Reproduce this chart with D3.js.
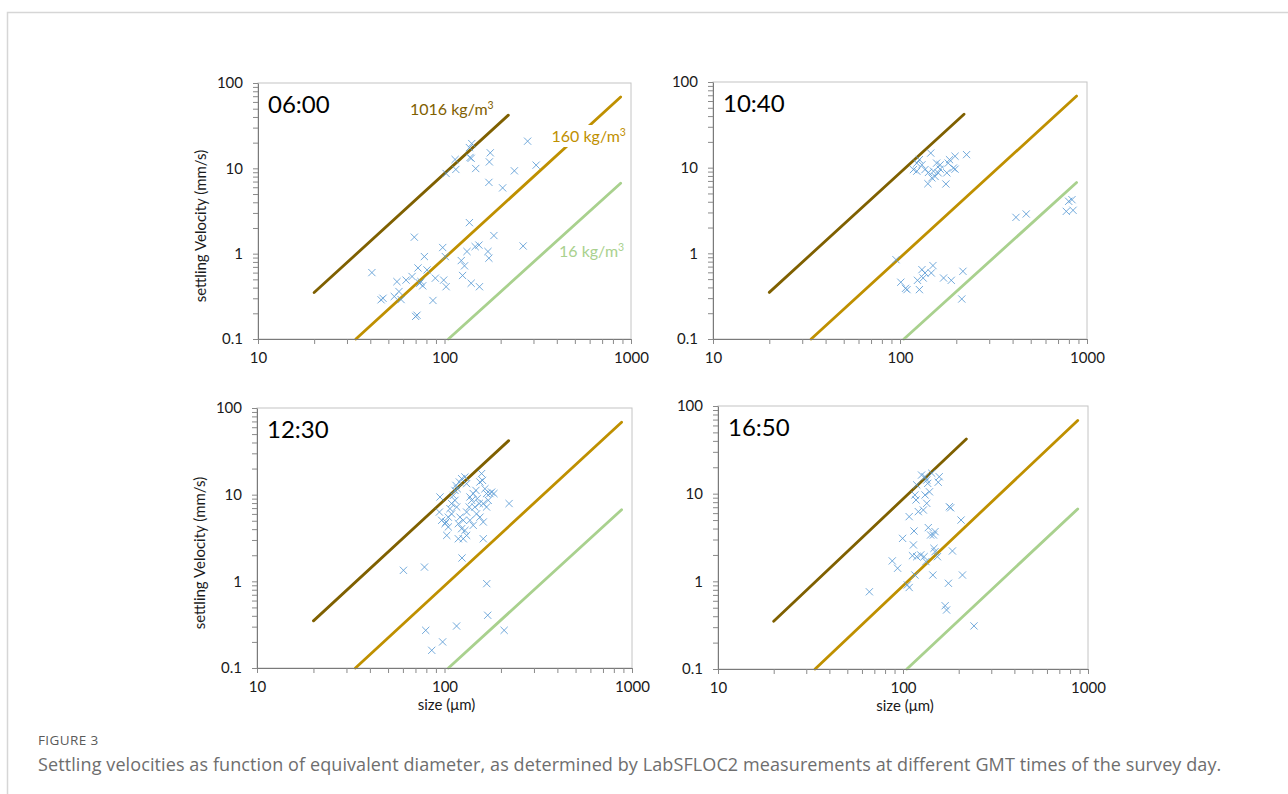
<!DOCTYPE html>
<html>
<head>
<meta charset="utf-8">
<script src="https://cdn.jsdelivr.net/npm/d3@7"></script>
<style>
	body { margin: 0; background: #fff; }
	svg text { font-family: Lato, 'Open Sans', sans-serif; }
	.caption { font-family: 'Open Sans', sans-serif; }
</style>
</head>
<body>
<svg width="1288" height="794"></svg>
<script>
const svg = d3.select('svg');

// values: size (µm) and settling velocity (mm/s)
const panelTimes = ['06:00', '10:40', '12:30', '16:50'];

const size0600 = [40.8, 45.7, 46.8, 53.8, 55.6, 57, 58.5, 62.2, 67, 68.9, 70, 71.2, 72.1, 73.6, 76.4, 78, 80.6, 86.7, 89.3, 97.8, 99, 101, 102, 102, 114, 115, 123, 125, 128, 132, 136, 136, 137, 139, 140, 147, 146, 153, 154, 171, 173, 173, 174, 176, 184, 205, 237, 264, 279, 310, 74.8, 139];
const vel0600 = [0.6, 0.288, 0.3, 0.315, 0.47, 0.36, 0.29, 0.49, 0.54, 1.56, 0.184, 0.19, 0.68, 0.45, 0.42, 0.925, 0.645, 0.283, 0.516, 1.18, 0.49, 0.925, 0.41, 8.7, 12.7, 9.7, 0.83, 0.555, 0.72, 1.06, 2.31, 17.5, 13.4, 0.45, 19.5, 9.95, 1.21, 1.26, 0.41, 1.06, 0.885, 6.85, 11.9, 15.2, 1.63, 5.9, 9.35, 1.23, 20.8, 10.9, 0.47, 13.1];

const size1040 = [95.2, 101, 107, 109, 127, 124, 131, 133, 136, 147, 150, 171, 188, 217, 214, 417, 473, 775, 798, 831, 842, 146, 227, 197, 184, 127, 123, 157, 131, 181, 193, 118, 123, 136, 142, 151, 160, 164, 154, 148, 178, 197, 141, 176, 164];
const vel1040 = [0.843, 0.46, 0.39, 0.377, 0.377, 0.484, 0.645, 0.515, 0.59, 0.59, 0.72, 0.515, 0.484, 0.617, 0.293, 2.63, 2.88, 3.09, 4.05, 4.23, 3.18, 14.8, 14.2, 13.6, 12.4, 12.4, 11.3, 11.3, 10.8, 11.3, 9.9, 9.5, 9.1, 9.5, 8.8, 9.1, 8.7, 9.6, 7.9, 7.6, 8.7, 9.6, 6.5, 6.45, 10.8];

const size1230 = [60.4, 78.2, 124, 161, 168, 170, 208, 79.4, 116, 97.7, 85.5, 221,
	94.6, 93.9, 96.6, 102.8, 101.9, 104.8, 106.9, 109.1, 111.4, 113.7, 115.1, 117, 120, 123.4, 128.5, 131.2, 136.7, 139.5, 142.3, 147.1, 149.5, 153.2, 154.5, 157.7, 159.5, 164.3, 167.6, 171.1, 174.6, 178.3, 183.5, 161, 154.5, 148.2, 145.2, 135.5, 131.2, 125.9, 121, 118.5, 123.4, 128.5, 131.2, 125.9, 118.5, 113.7, 116.1, 109.1, 104.8, 100.7, 136.7, 142.3, 161, 167.6];
const vel1230 = [1.34, 1.46, 1.86, 3.1, 0.94, 0.406, 0.272, 0.272, 0.305, 0.2, 0.16, 7.9,
	9.4, 6.3, 5.06, 3.39, 4.84, 5.5, 6.9, 7.9, 9.8, 11.2, 12.8, 11.7, 14, 15.3, 16, 13.4, 9.4, 8.6, 10.3, 11.2, 9, 7.9, 14, 17.5, 14.6, 11.7, 10.3, 8.6, 10.3, 10.7, 10.3, 4.84, 5.5, 6, 7.2, 7.2, 6.3, 5.06, 5.5, 4.63, 4.05, 3.87, 3.39, 3.1, 3.1, 8.6, 7.2, 6, 4.24, 4.63, 5.06, 4.43, 7.9, 7.2];

const size1650 = [65.8, 87.5, 93.5, 99.5, 105.5, 108, 108, 112.5, 113.8, 114.7, 116, 116, 117.6, 118.6, 121, 118.6, 124.7, 126, 128.8, 130, 131.6, 131.6, 133, 134.4, 134.4, 136, 137, 139, 141, 143, 145, 146, 147, 149, 149, 153.5, 155, 157, 169, 172, 176, 178, 181, 185, 206, 209.6, 242];
const vel1650 = [0.76, 1.71, 1.41, 3.09, 0.91, 0.85, 5.47, 1.96, 2.6, 3.75, 1.18, 9.66, 8.47, 12.6, 6.24, 1.91, 2, 16.3, 6.51, 1.91, 9.66, 15.6, 1.68, 7.76, 14.3, 13.1, 4.1, 10.5, 3.38, 17.1, 1.18, 3.38, 2.38, 3.69, 2.18, 1.91, 13.5, 15.6, 0.527, 0.471, 0.95, 7.1, 6.9, 2.22, 5, 1.18, 0.31];

// reference density lines: [size, velocity] end points
const densityNames = ['1016', '160', '16'];
const densityLines = [
	[[20, 0.35], [220, 42]],
	[[33.5, 0.1], [880, 68.5]],
	[[105, 0.1], [880, 6.7]],
];
const densityColors = ['#7f6000', '#bf9000', '#a9d18e'];

const xDomain = [10, 1000];
const yDomain = [0.1, 100];

const panels = [
	{ time: panelTimes[0], size: size0600, vel: vel0600, x0: 258, x1: 631, y0: 83, y1: 339, yLabel: true, xLabel: false, legend: true },
	{ time: panelTimes[1], size: size1040, vel: vel1040, x0: 713, x1: 1087, y0: 82, y1: 339, yLabel: false, xLabel: false },
	{ time: panelTimes[2], size: size1230, vel: vel1230, x0: 257, x1: 632, y0: 408, y1: 668, yLabel: true, xLabel: true },
	{ time: panelTimes[3], size: size1650, vel: vel1650, x0: 718, x1: 1088, y0: 406, y1: 669, yLabel: false, xLabel: true },
];

// outer figure frame
svg.append('rect')
	.attr('x', 7.5).attr('y', 12.5)
	.attr('width', 1300).attr('height', 800)
	.attr('fill', 'none')
	.attr('stroke', '#d6d6d6')
	.attr('stroke-width', 1.5);

const isDecade = d => Math.abs(Math.log10(d) - Math.round(Math.log10(d))) < 1e-6;
const decadeFormat = d => (isDecade(d) ? (d < 1 ? '0.1' : String(Math.round(d))) : '');

const drawPanel = p => {
	const xScale = d3.scaleLog().domain(xDomain).range([p.x0, p.x1]);
	const yScale = d3.scaleLog().domain(yDomain).range([p.y1, p.y0]);

	const g = svg.append('g');

	// plot area border
	g.append('rect')
		.attr('x', p.x0).attr('y', p.y0)
		.attr('width', p.x1 - p.x0).attr('height', p.y1 - p.y0)
		.attr('fill', 'none')
		.attr('stroke', '#c4c4c4')
		.attr('stroke-width', 1);

	const lineGenerator = d3.line()
		.x(d => xScale(d[0]))
		.y(d => yScale(d[1]));

	g.selectAll('.density-line')
		.data(densityLines)
		.enter()
		.append('path')
		.attr('class', 'density-line')
		.attr('d', d => lineGenerator(d))
		.attr('fill', 'none')
		.attr('stroke', (d, i) => densityColors[i])
		.attr('stroke-width', 2.8)
		.attr('stroke-linecap', 'round');

	// legend labels sit on top of the lines (white box breaks the 160 line)
	if (p.legend) {
		const labelPos = [[410, 115], [551.5, 141.5], [559, 256.5]];
		g.append('rect')
			.attr('x', 546).attr('y', 125)
			.attr('width', 82).attr('height', 22)
			.attr('fill', '#fff');
		densityNames.forEach((name, i) => {
			const t = g.append('text')
				.attr('x', labelPos[i][0])
				.attr('y', labelPos[i][1])
				.attr('fill', densityColors[i])
				.style('font-size', '16px')
				.text(`${name} kg/m`);
			t.append('tspan')
				.attr('dy', -6)
				.style('font-size', '10.5px')
				.text('3');
		});
	}

	// scatter markers
	const points = p.size.map((s, i) => [s, p.vel[i]]);
	g.selectAll('.pt')
		.data(points)
		.enter()
		.append('path')
		.attr('class', 'pt')
		.attr('transform', d => `translate(${xScale(d[0])},${yScale(d[1])})`)
		.attr('d', 'M-3.6,-3.6L3.6,3.6M-3.6,3.6L3.6,-3.6')
		.attr('stroke', '#5b9bd5')
		.attr('stroke-width', 1)
		.attr('opacity', 0.85)
		.attr('fill', 'none');

	const xAxis = d3.axisBottom(xScale)
		.tickValues(xScale.ticks())
		.tickFormat(decadeFormat)
		.tickSize(5)
		.tickSizeOuter(0)
		.tickPadding(8);
	const yAxis = d3.axisLeft(yScale)
		.tickValues(yScale.ticks())
		.tickFormat(decadeFormat)
		.tickSize(5)
		.tickSizeOuter(0)
		.tickPadding(10);

	const xAxisG = g.append('g').attr('transform', `translate(0,${p.y1})`).call(xAxis);
	const yAxisG = g.append('g').attr('transform', `translate(${p.x0},0)`).call(yAxis);

	[xAxisG, yAxisG].forEach(a => {
		a.select('.domain').attr('stroke', '#7a7a7a');
		a.selectAll('.tick line').attr('stroke', '#8a8a8a');
		a.selectAll('.tick text')
			.attr('fill', '#1a1a1a')
			.style('font-size', '15px')
			.style('font-family', 'Lato, sans-serif');
	});

	g.append('text')
		.attr('x', p.x0 + 10)
		.attr('y', p.y0 + 30)
		.attr('fill', '#000')
		.style('font-size', '24px')
		.text(p.time);

	if (p.yLabel) {
		g.append('text')
			.attr('transform', `translate(${p.x0 - 52},${(p.y0 + p.y1) / 2 + 15}) rotate(-90)`)
			.attr('text-anchor', 'middle')
			.attr('fill', '#1a1a1a')
			.style('font-size', '15px')
			.text('settling Velocity (mm/s)');
	}
	if (p.xLabel) {
		g.append('text')
			.attr('x', xScale(100) + 2)
			.attr('y', p.y1 + 42)
			.attr('text-anchor', 'middle')
			.attr('fill', '#1a1a1a')
			.style('font-size', '15px')
			.text('size (μm)');
	}
};

panels.forEach(drawPanel);

// caption
svg.append('text')
	.attr('class', 'caption')
	.attr('x', 38).attr('y', 745)
	.attr('fill', '#5a5a5a')
	.style('font-size', '13.5px')
	.style('letter-spacing', '0.4px')
	.text('FIGURE 3');
svg.append('text')
	.attr('class', 'caption')
	.attr('x', 38).attr('y', 771)
	.attr('fill', '#6e6e6e')
	.style('font-size', '18px')
	.style('letter-spacing', '0.1px')
	.text('Settling velocities as function of equivalent diameter, as determined by LabSFLOC2 measurements at different GMT times of the survey day.');
</script>
</body>
</html>
